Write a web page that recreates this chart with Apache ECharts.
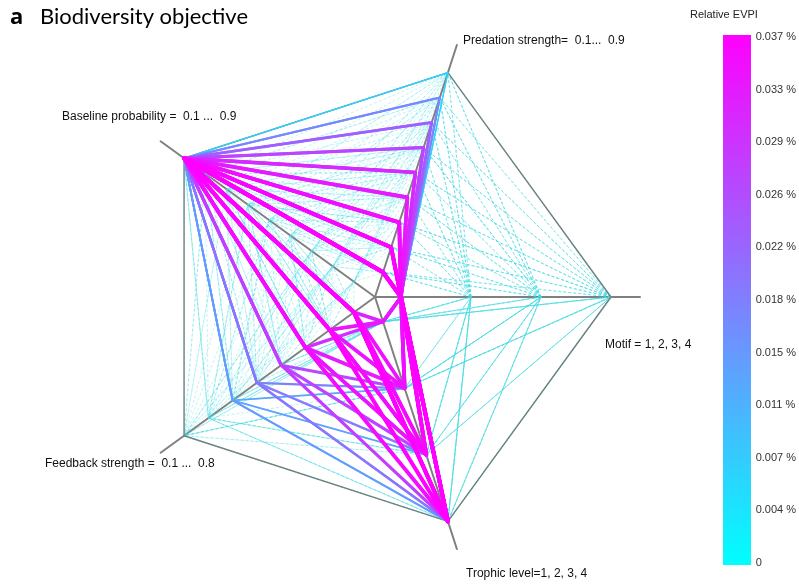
<!DOCTYPE html>
<html><head><meta charset="utf-8">
<script src="https://cdn.jsdelivr.net/npm/echarts@6/dist/echarts.min.js"></script>
<style>html,body{margin:0;padding:0;background:#fff}#c{width:799px;height:585px}</style>
</head><body><div id="c"></div>
<script>
// ---- axis definitions (order: Motif, Predation, Baseline, Feedback, Trophic) ----
const axisLabels = ['Motif = 1, 2, 3, 4', 'Predation strength=  0.1...  0.9', 'Baseline probability =  0.1 ...  0.9', 'Feedback strength =  0.1 ...  0.8', 'Trophic level=1, 2, 3, 4'];
const motifLevels = [1, 2, 3, 4];
const predationLevels = [0.1, 0.2, 0.3, 0.4, 0.5, 0.6, 0.7, 0.8, 0.9];
const baselineLevels = [0.1, 0.2, 0.3, 0.4, 0.5, 0.6, 0.7, 0.8, 0.9];
const feedbackLevels = [0.1, 0.2, 0.3, 0.4, 0.5, 0.6, 0.7, 0.8];
const trophicLevels = [1, 2, 3, 4];
const evpiMin = 0, evpiMax = 0.0368; // relative EVPI, %
const colorLow = '#00ffff', colorHigh = '#ff00ff';

// ---- highlighted scenarios: [motif, predation, baseline, feedback, trophic, EVPI %] ----
const highLines = [
  [1,0.1,0.9,0.1,4,0.0368],[1,0.1,0.9,0.2,4,0.0366],[1,0.2,0.9,0.1,4,0.0362],[1,0.1,0.9,0.1,3,0.0360],
  [1,0.1,0.9,0.3,4,0.0350],[1,0.2,0.9,0.2,3,0.0352],[1,0.3,0.9,0.1,4,0.0350],[1,0.1,0.9,0.1,2,0.0345],
  [1,0.2,0.9,0.3,3,0.0340],[1,0.3,0.9,0.2,2,0.0338],[1,0.1,0.9,0.2,1,0.0335],[1,0.4,0.9,0.1,4,0.0332],
  [1,0.4,0.9,0.2,3,0.0325],[1,0.1,0.9,0.3,2,0.0330],[1,0.2,0.9,0.1,1,0.0320],[1,0.5,0.9,0.1,4,0.0310],
  [1,0.5,0.9,0.3,3,0.0295],[1,0.1,0.9,0.4,4,0.0280],[1,0.2,0.9,0.4,3,0.0270],[1,0.3,0.9,0.4,2,0.0262],
  [1,0.6,0.9,0.1,4,0.0272],[1,0.6,0.9,0.2,3,0.0260],[1,0.7,0.9,0.1,4,0.0232],[1,0.7,0.9,0.3,3,0.0215],
  [1,0.1,0.9,0.5,4,0.0200],[1,0.2,0.9,0.5,3,0.0190],[1,0.3,0.9,0.5,2,0.0182],[1,0.8,0.9,0.1,4,0.0172],
  [1,0.8,0.9,0.2,3,0.0160],[1,0.1,0.9,0.6,4,0.0145],[1,0.2,0.9,0.6,3,0.0135],[1,0.1,0.9,0.6,2,0.0128],
  [1,0.4,0.9,0.5,4,0.0175],[1,0.9,0.9,0.1,4,0.0068],[1,0.9,0.9,0.3,3,0.0060],[1,0.1,0.9,0.7,4,0.0045],
  [1,0.3,0.9,0.7,3,0.0040],[1,0.5,0.9,0.6,4,0.0115],[1,0.3,0.9,0.3,1,0.0300],[1,0.5,0.9,0.2,1,0.0250]
];

// ---- background scenarios (low EVPI) ----
const bgLines = [
  [2,.1,.1,.2,1,.0010],[3,.1,.2,.5,3,.0015],[4,.1,.3,.8,2,.0008],[2,.1,.4,.3,4,.0020],[3,.1,.5,.6,1,.0012],
  [4,.1,.6,.1,3,.0018],[1,.1,.7,.4,2,.0030],[2,.1,.8,.7,4,.0025],[3,.1,.9,.2,2,.0035],
  [3,.2,.1,.6,2,.0009],[4,.2,.2,.1,4,.0011],[1,.2,.3,.4,1,.0020],[2,.2,.4,.7,3,.0014],[3,.2,.5,.2,4,.0017],
  [4,.2,.6,.5,2,.0013],[2,.2,.7,.8,1,.0022],[3,.2,.8,.3,3,.0028],[4,.2,.9,.6,4,.0032],
  [4,.3,.1,.3,3,.0007],[2,.3,.2,.6,1,.0012],[3,.3,.3,.1,2,.0010],[4,.3,.4,.4,4,.0016],[1,.3,.5,.7,3,.0021],
  [2,.3,.6,.2,1,.0019],[3,.3,.7,.5,4,.0024],[4,.3,.8,.8,2,.0020],[2,.3,.9,.4,1,.0033],
  [1,.4,.1,.5,4,.0012],[3,.4,.2,.8,2,.0009],[4,.4,.3,.2,1,.0013],[2,.4,.4,.5,3,.0015],[3,.4,.5,.1,2,.0018],
  [4,.4,.6,.7,4,.0014],[2,.4,.7,.3,3,.0023],[3,.4,.8,.6,1,.0026],[4,.4,.9,.1,2,.0030],
  [2,.5,.1,.8,4,.0006],[4,.5,.2,.3,3,.0010],[1,.5,.3,.6,2,.0017],[3,.5,.4,.2,1,.0012],[4,.5,.5,.5,4,.0016],
  [2,.5,.6,.8,2,.0015],[3,.5,.7,.1,3,.0021],[4,.5,.8,.4,4,.0024],[1,.5,.9,.7,1,.0034],
  [3,.6,.1,.1,2,.0008],[4,.6,.2,.4,1,.0011],[2,.6,.3,.7,4,.0012],[1,.6,.4,.3,3,.0019],[4,.6,.5,.6,2,.0014],
  [3,.6,.6,.2,4,.0017],[2,.6,.7,.5,1,.0020],[4,.6,.8,.8,3,.0022],[3,.6,.9,.3,2,.0029],
  [4,.7,.1,.4,1,.0007],[2,.7,.2,.7,3,.0010],[3,.7,.3,.2,4,.0011],[4,.7,.4,.6,2,.0013],[1,.7,.5,.1,1,.0020],
  [2,.7,.6,.4,3,.0016],[3,.7,.7,.8,2,.0019],[4,.7,.8,.2,4,.0021],[2,.7,.9,.5,3,.0027],
  [2,.8,.1,.7,3,.0006],[3,.8,.2,.2,1,.0009],[4,.8,.3,.5,4,.0010],[2,.8,.4,.1,2,.0012],[1,.8,.5,.4,3,.0018],
  [3,.8,.6,.7,1,.0013],[4,.8,.7,.3,2,.0017],[2,.8,.8,.6,4,.0019],[3,.8,.9,.8,3,.0024],
  [3,.9,.1,.2,4,.0005],[4,.9,.2,.5,2,.0008],[2,.9,.3,.8,1,.0009],[3,.9,.4,.3,3,.0011],[4,.9,.5,.7,1,.0012],
  [1,.9,.6,.2,2,.0016],[2,.9,.7,.6,4,.0015],[3,.9,.8,.1,3,.0018],[4,.9,.9,.4,1,.0022],
  [2,.1,.2,.1,2,.0011],[3,.2,.3,.2,3,.0013],[4,.3,.5,.3,1,.0015],[2,.4,.6,.4,4,.0016],[3,.5,.8,.5,2,.0020],
  [4,.6,.9,.6,1,.0026],[2,.7,.1,.7,4,.0007],[3,.8,.3,.8,2,.0010],[4,.9,.4,.1,3,.0011],[2,.2,.5,.8,4,.0014],
  [3,.3,.6,.7,1,.0016],[4,.4,.7,.6,3,.0019],[2,.5,.9,.3,2,.0028],[3,.6,.2,.8,4,.0009],[4,.7,.3,.7,1,.0010],
  [2,.8,.5,.2,3,.0014],[3,.9,.6,.4,2,.0013],[4,.1,.8,.5,1,.0023],[2,.3,.1,.4,2,.0008],[3,.4,.3,.3,4,.0012],
  [4,.5,.6,.1,3,.0015],[2,.6,.8,.2,1,.0021],[3,.7,.4,.1,4,.0012],[4,.8,.9,.7,2,.0023],[2,.9,.2,.6,3,.0007],
  [3,.1,.4,.8,1,.0014],[4,.2,.7,.2,2,.0019],[2,.5,.5,.6,4,.0016],[3,.6,.7,.3,3,.0018],[4,.3,.9,.5,4,.0027],
  [1,.2,.2,.3,2,.0012],[1,.4,.4,.2,1,.0015],[1,.6,.6,.5,3,.0018],[1,.8,.8,.4,2,.0022],[1,.3,.6,.1,4,.0017],
  [1,.7,.2,.6,4,.0010],[1,.5,.7,.3,2,.0024],[1,.9,.3,.5,3,.0011],[1,.2,.8,.6,1,.0026],[1,.1,.5,.2,3,.0019]
];
const frameLine = [4, 0.9, 0.9, 0.8, 4];

// ---- layout / style ----
const CX = 375, CY = 297, R = 265, R_IN = 26, R_OUT = 236;
function indicator(levels, name) {
  const lo = levels[0], hi = levels[levels.length - 1];
  const s = (hi - lo) / (R_OUT - R_IN);
  return { name: name, min: lo - R_IN * s, max: lo + (R - R_IN) * s };
}
function hex2rgb(h) { return [1, 3, 5].map(i => parseInt(h.substr(i, 2), 16)); }
function evpiColor(e) {
  const t = Math.max(0, Math.min(1, (e - evpiMin) / (evpiMax - evpiMin)));
  const a = hex2rgb(colorLow), b = hex2rgb(colorHigh);
  return 'rgb(' + a.map((v, i) => Math.round(v + (b[i] - v) * t)).join(',') + ')';
}
const LOW = 0.005;
function styled(l) {
  const e = l[5], t = e / evpiMax, low = e < LOW;
  return {
    value: l.slice(0, 5),
    lineStyle: {
      color: low ? '#3fd9e0' : evpiColor(e),
      width: low ? 0.6 : 0.6 + 3.4 * t,
      type: low ? [3, 2] : 'solid',
      opacity: low ? 0.55 : 1
    }
  };
}
const sorted = bgLines.concat(highLines).slice().sort((x, y) => x[5] - y[5]);
const seriesData = sorted.filter(l => l[5] < LOW).map(styled)
  .concat([{ value: frameLine, lineStyle: { color: '#6e8282', width: 1.4, type: 'solid', opacity: 1 } }])
  .concat(sorted.filter(l => l[5] >= LOW).map(styled));

const chart = echarts.init(document.getElementById('c'), null, { renderer: 'canvas' });
const font = '"Liberation Sans", Arial, sans-serif';
chart.setOption({
  animation: false,
  backgroundColor: '#ffffff',
  radar: {
    center: [CX, CY],
    radius: R,
    startAngle: 0,
    shape: 'polygon',
    splitNumber: 1,
    indicator: [
      indicator(motifLevels, axisLabels[0]),
      indicator(predationLevels, axisLabels[1]),
      indicator(baselineLevels, axisLabels[2]),
      indicator(feedbackLevels, axisLabels[3]),
      indicator(trophicLevels, axisLabels[4])
    ],
    axisName: { show: false },
    splitLine: { show: false },
    splitArea: { show: false },
    axisTick: { show: false },
    axisLabel: { show: false },
    axisLine: { lineStyle: { color: '#808080', width: 2 } }
  },
  grid: { left: 723, top: 37, width: 28, height: 526 },
  xAxis: { type: 'value', show: false },
  yAxis: {
    type: 'value', position: 'right', min: evpiMin, max: evpiMax, interval: evpiMax / 10,
    axisLine: { show: false },
    axisTick: { show: true, length: 3, lineStyle: { color: '#333' } },
    splitLine: { show: false },
    axisLabel: {
      margin: 6, fontSize: 11, color: '#333', fontFamily: font,
      formatter: v => (Math.abs(v) < 1e-9 ? '0' : v.toFixed(3) + ' %')
    }
  },
  series: [{
    type: 'radar',
    symbol: 'none',
    silent: true,
    z: 3,
    data: seriesData
  }],
  graphic: [
    { type: 'rect', z: 1, shape: { x: 723, y: 35, width: 28, height: 530 },
      style: { fill: new echarts.graphic.LinearGradient(0, 0, 0, 1, [
        { offset: 0, color: colorHigh }, { offset: 1, color: colorLow }]) } },
    { type: 'text', left: 10, top: 7, style: { text: 'a', font: 'bold 22px "Open Sans", sans-serif', fill: '#000' } },
    { type: 'text', left: 40, top: 6, style: { text: 'Biodiversity objective', font: '22px Lato, sans-serif', fill: '#000' } },
    { type: 'text', left: 690, top: 9, style: { text: 'Relative EVPI', font: '11px ' + font, fill: '#222' } },
    { type: 'text', left: 463, top: 35, style: { text: axisLabels[1], font: '12px ' + font, fill: '#111' } },
    { type: 'text', left: 62, top: 111, style: { text: axisLabels[2], font: '12px ' + font, fill: '#111' } },
    { type: 'text', left: 605, top: 339, style: { text: axisLabels[0], font: '12px ' + font, fill: '#111' } },
    { type: 'text', left: 45, top: 458, style: { text: axisLabels[3], font: '12px ' + font, fill: '#111' } },
    { type: 'text', left: 466, top: 568, style: { text: axisLabels[4], font: '12px ' + font, fill: '#111' } }
  ]
});
</script></body></html>
